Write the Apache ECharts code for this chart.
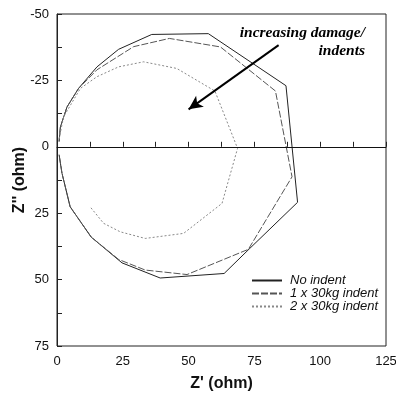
<!DOCTYPE html>
<html lang="en">
<head>
    <meta charset="UTF-8">
    <title>Nyquist</title>
    <style>
        html, body { margin: 0; padding: 0; background: #fff; }
        #main { width: 396px; height: 398px; }
    </style>
</head>
<body>
<div id="main"></div>
<script src="https://cdn.jsdelivr.net/npm/echarts@6/dist/echarts.min.js"></script>
<script>
    // Z' , Z'' (ohm)
    var noIndent = [
        [0.8, -2], [1.3, -7.5], [3.8, -15], [8.2, -22], [15.2, -30.1], [23.4, -36.7],
        [36, -42.3], [57.5, -42.6], [87, -23], [91.4, 20.9], [73, 38.5], [63.5, 47.7],
        [39.2, 49.4], [24.7, 43.7], [13, 34], [5, 22.6], [1.9, 10], [0.8, 3]
    ];
    var oneIndent = [
        [0.8, -2], [1.3, -7.5], [3.8, -15], [8.2, -22], [15.2, -29], [29.1, -37.7],
        [42.7, -40.8], [62.1, -37.6], [83, -21], [89.3, 11.3], [72.7, 38.6], [49.4, 48.1],
        [33.5, 46.4], [23.4, 42.4], [13, 34], [5, 22.6], [1.9, 10], [0.8, 3]
    ];
    var twoIndent = [
        [0.8, -3], [2.5, -11.3], [8.9, -22], [15.2, -26.4], [23.4, -30.1], [32.9, -32],
        [45.5, -29.5], [60, -21], [68.6, 0.6], [62.7, 21.3], [48.1, 32.6], [33.5, 34.5],
        [24, 32], [17.7, 28.8], [12.6, 22.6]
    ];
    var seriesNames = ['No indent', '1 x 30kg indent', '2 x 30kg indent'];
    var arrowFrom = [84.2, -38.3];
    var arrowTo = [50, -14.1];

    var mChart = echarts.init(document.getElementById('main'));

    function tickLabel(v) {
        return v % 25 === 0 ? String(v) : '';
    }

    var option = {
        animation: false,
        grid: {
            left: 57, right: 10, top: 14, bottom: 52,
            outerBoundsMode: 'none', containLabel: false,
            show: true, borderColor: '#222', borderWidth: 1
        },
        xAxis: {
            type: 'value', min: 0, max: 125, interval: 12.5,
            name: "Z' (ohm)", nameLocation: 'middle', nameGap: 30,
            nameTextStyle: { fontFamily: 'Liberation Sans', fontWeight: 'bold', fontSize: 16, color: '#111' },
            axisLine: { lineStyle: { color: '#222' } },
            axisTick: { inside: true, length: 5, lineStyle: { color: '#222' } },
            axisLabel: { formatter: tickLabel, margin: 9, fontFamily: 'Liberation Sans', fontSize: 13, color: '#111' },
            splitLine: { show: false }
        },
        yAxis: {
            type: 'value', min: -50, max: 75, interval: 12.5, inverse: true,
            name: "Z'' (ohm)", nameLocation: 'middle', nameGap: 29, nameRotate: 90,
            nameMoveOverlap: false,
            nameTextStyle: { fontFamily: 'Liberation Sans', fontWeight: 'bold', fontSize: 16, color: '#111' },
            axisLine: { lineStyle: { color: '#222' } },
            axisTick: { inside: true, length: 5, lineStyle: { color: '#222' } },
            axisLabel: { formatter: tickLabel, margin: 8, fontFamily: 'Liberation Sans', fontSize: 13, color: '#111' },
            splitLine: { show: false }
        },
        legend: {
            orient: 'vertical', left: 251, top: 274, padding: 0,
            itemWidth: 30, itemHeight: 12, itemGap: 0,
            data: seriesNames,
            itemStyle: { opacity: 0 },
            textStyle: { fontFamily: 'Liberation Sans', fontStyle: 'italic', fontSize: 13, color: '#111', padding: [0, 0, 0, 3] }
        },
        graphic: [
            {
                type: 'text', right: 31, top: 25,
                style: {
                    text: 'increasing damage/', fill: '#000', align: 'right',
                    font: 'italic bold 15.5px "Liberation Serif"'
                }
            },
            {
                type: 'text', right: 31, top: 43,
                style: {
                    text: 'indents', fill: '#000', align: 'right',
                    font: 'italic bold 15.5px "Liberation Serif"'
                }
            }
        ],
        series: [
            {
                name: seriesNames[0], type: 'line', data: noIndent, symbol: 'none',
                lineStyle: { color: '#222', width: 1 },
                itemStyle: { color: '#222' },
                markLine: {
                    silent: true, symbol: 'none', label: { show: false },
                    lineStyle: { color: '#111', width: 1, type: 'solid' },
                    data: [{ yAxis: 0 }]
                }
            },
            {
                name: seriesNames[1], type: 'line', data: oneIndent, symbol: 'none',
                lineStyle: { color: '#555', width: 1, type: [7, 2] },
                itemStyle: { color: '#555' },
                markLine: {
                    silent: true, symbol: ['none', 'arrow'], symbolSize: [10, 14],
                    label: { show: false },
                    lineStyle: { color: '#000', width: 2, type: 'solid' },
                    data: [[{ coord: arrowFrom }, { coord: arrowTo }]]
                }
            },
            {
                name: seriesNames[2], type: 'line', data: twoIndent, symbol: 'none',
                lineStyle: { color: '#888', width: 1, type: [2, 2] },
                itemStyle: { color: '#888' }
            }
        ]
    };

    mChart.setOption(option);
</script>
</body>
</html>
